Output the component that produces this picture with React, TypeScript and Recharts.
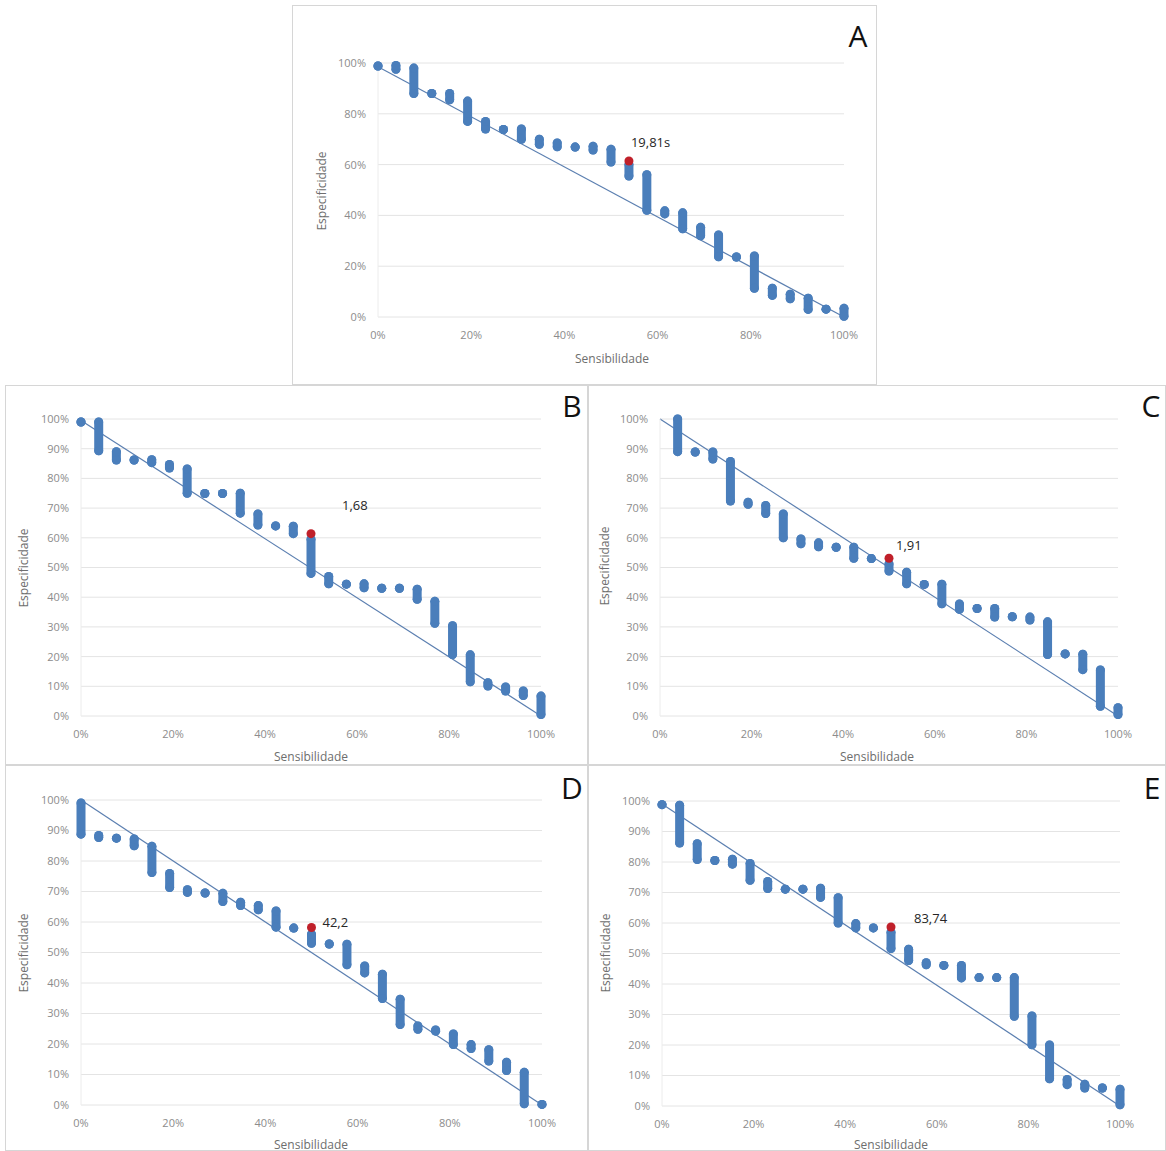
import React from "react"
import { ScatterChart, Scatter, XAxis, YAxis, CartesianGrid, ReferenceLine } from "recharts"

// sensitivity steps shared by all five panels (%)
const sens = [0, 3.85, 7.69, 11.54, 15.38, 19.23, 23.08, 26.92, 30.77, 34.62, 38.46, 42.31, 46.15, 50, 53.85, 57.69, 61.54, 65.38, 69.23, 73.08, 76.92, 80.77, 84.62, 88.46, 92.31, 96.15, 100]

// specificity range (low / high) at each sensitivity step (%)
const aLow = [98.8, 97.5, 88, 88, 85.5, 77, 74, 73.8, 70, 68, 67, 66.9, 65.7, 61, 55.5, 42, 40.6, 34.7, 32, 23.7, 23.6, 11.3, 8.5, 7.2, 3, 3.1, 0.3]
const aHigh = [98.8, 99, 98, 88, 88, 85, 77, 73.8, 74, 70, 68.5, 66.9, 67.2, 66, 60, 56, 41.8, 41, 35.3, 32.3, 23.6, 24, 11.3, 9, 7.4, 3.1, 3.4]

const bLow = [99, 89.3, 86.2, 86.2, 85.3, 83.5, 75, 74.9, 74.9, 68.3, 64.3, 64, 61.4, 48, 44.5, 44.4, 43.2, 43, 43, 39.3, 31.2, 20.7, 11.5, 10.1, 8.4, 6.9, 0.5]
const bHigh = [99, 99, 89, 86.2, 86.3, 84.7, 83.2, 74.9, 74.9, 75, 68, 64, 63.9, 59.5, 47, 44.4, 44.5, 43, 43, 42.7, 38.6, 30.4, 20.6, 11.2, 9.8, 8.4, 6.7]

const cLow = [null, 89, 88.9, 86.5, 72.4, 71.3, 68.2, 60, 58, 57, 56.8, 53.1, 53, 48.8, 44.5, 44.3, 37.8, 35.9, 36.2, 33.3, 33.4, 32.3, 20.7, 20.9, 15.6, 3.3, 0.5]
const cHigh = [null, 100, 88.9, 88.9, 85.7, 72, 70.9, 68, 59.6, 58.3, 56.8, 56.8, 53, 51.2, 48.4, 44.3, 44.4, 37.7, 36.2, 36.2, 33.4, 33.3, 31.7, 20.9, 20.8, 15.5, 2.8]

const dLow = [88.8, 87.7, 87.5, 85, 76.2, 71.3, 69.7, 69.5, 66.7, 65.4, 64, 58.3, 58, 53, 52.8, 46, 43.3, 34.9, 26.4, 24.8, 24.2, 19.8, 18.5, 14.4, 11.3, 0.4, 0.2]
const dHigh = [99, 88.4, 87.5, 87.2, 84.8, 75.9, 70.6, 69.5, 69.4, 66.5, 65.4, 63.6, 58, 56, 52.8, 52.7, 45.6, 42.9, 34.7, 25.9, 24.6, 23.3, 19.8, 18.1, 14, 10.7, 0.2]

const eLow = [98.8, 86.2, 80.8, 80.5, 79.3, 74, 71.3, 71.1, 71.1, 68.4, 60, 58.4, 58.4, 51.6, 47.7, 46.3, 46.1, 42, 42.1, 42.1, 29.4, 20.1, 8.9, 7, 5.9, 5.9, 0.4]
const eHigh = [98.8, 98.6, 86, 80.5, 80.9, 79.5, 73.6, 71.1, 71.1, 71.4, 68.3, 59.8, 58.4, 57, 51.4, 47, 46.1, 46.1, 42.1, 42.1, 42.1, 29.5, 20, 8.7, 7.1, 5.9, 5.5]

// selected cut-off point [sensitivity, specificity] and its label
const aCut = [53.85, 61.4]
const bCut = [50, 61.4]
const cCut = [50, 53.1]
const dCut = [50, 58.2]
const eCut = [50, 58.7]
const cutLabels = ["19,81s", "1,68", "1,91", "42,2", "83,74"]

// start of the reference diagonal at sensitivity 0
const diagStart = [98.5, 99.5, 100, 100, 99]

const yTicksA = [0, 20, 40, 60, 80, 100]
const yTicks = [0, 10, 20, 30, 40, 50, 60, 70, 80, 90, 100]
const xTicks = [0, 20, 40, 60, 80, 100]

const BLUE = "#4a7ebb"
const RED = "#c0202a"
const FONT = "'Open Sans', 'Liberation Sans', sans-serif"

type Panel = {
  letter: string
  left: number
  top: number
  w: number
  h: number
  x0: number
  x1: number
  y0: number
  y1: number
  low: (number | null)[]
  high: (number | null)[]
  cut: number[]
  label: string
  diag: number
  yTicks: number[]
  dx: number
  dy: number
  xTitle: [number, number]
  yTitle: [number, number]
  letterPos: [number, number]
}

const panels: Panel[] = [
  { letter: "A", left: 292, top: 5, w: 585, h: 380, x0: 86, x1: 552, y0: 58, y1: 312, low: aLow, high: aHigh, cut: aCut, label: cutLabels[0], diag: diagStart[0], yTicks: yTicksA, dx: 2, dy: -14, xTitle: [319, 352], yTitle: [28, 185], letterPos: [565, 30] },
  { letter: "B", left: 5, top: 385, w: 583, h: 380, x0: 76, x1: 536, y0: 34, y1: 331, low: bLow, high: bHigh, cut: bCut, label: cutLabels[1], diag: diagStart[1], yTicks, dx: 31, dy: -24, xTitle: [305, 370], yTitle: [17, 182], letterPos: [566, 20] },
  { letter: "C", left: 588, top: 385, w: 578, h: 380, x0: 72, x1: 530, y0: 34, y1: 331, low: cLow, high: cHigh, cut: cCut, label: cutLabels[2], diag: diagStart[2], yTicks, dx: 7, dy: -8, xTitle: [288, 370], yTitle: [15, 180], letterPos: [562, 20] },
  { letter: "D", left: 5, top: 765, w: 583, h: 386, x0: 76, x1: 537, y0: 35, y1: 340, low: dLow, high: dHigh, cut: dCut, label: cutLabels[3], diag: diagStart[3], yTicks, dx: 11, dy: 0, xTitle: [305, 378], yTitle: [17, 187], letterPos: [566, 22] },
  { letter: "E", left: 588, top: 765, w: 578, h: 386, x0: 74, x1: 532, y0: 36, y1: 341, low: eLow, high: eHigh, cut: eCut, label: cutLabels[4], diag: diagStart[4], yTicks, dx: 23, dy: -4, xTitle: [302, 378], yTitle: [16, 187], letterPos: [563, 22] },
]

const tickStyle = { fontSize: 11, fill: "#8c8c8c", fontFamily: FONT }

function RocPanel({ p }: { p: Panel }) {
  const yAxisW = 44
  const xAxisH = 24
  const margin = { top: p.y0, right: p.w - p.x1, bottom: p.h - p.y1 - xAxisH, left: p.x0 - yAxisW }

  const columns = sens
    .map((x, i) => ({ x, lo: p.low[i], hi: p.high[i] }))
    .filter((c) => c.lo != null && c.hi != null)

  const dot = (props: any) => <circle cx={props.cx} cy={props.cy} r={4.5} fill={BLUE} />
  const cutDot = (props: any) => (
    <g>
      <circle cx={props.cx} cy={props.cy} r={4.5} fill={RED} />
      <text x={props.cx + p.dx} y={props.cy + p.dy} fontSize={13} fill="#262626" fontFamily={FONT}>
        {p.label}
      </text>
    </g>
  )

  return (
    <div
      style={{
        position: "absolute",
        left: p.left,
        top: p.top,
        width: p.w,
        height: p.h,
        boxSizing: "border-box",
        border: "1px solid #d6d6d6",
        background: "#fff",
        overflow: "hidden",
      }}
    >
      <div style={{ position: "absolute", left: -1, top: -1 }}>
        <ScatterChart width={p.w} height={p.h} margin={margin}>
          <CartesianGrid vertical={false} stroke="#e4e4e4" />
          <XAxis
            type="number"
            dataKey="x"
            domain={[0, 100]}
            ticks={xTicks}
            tickFormatter={(v) => `${v}%`}
            axisLine={false}
            tickLine={false}
            tick={{ ...tickStyle, dy: 6 }}
            height={xAxisH}
            interval={0}
          />
          <YAxis
            type="number"
            dataKey="y"
            domain={[0, 100]}
            ticks={p.yTicks}
            tickFormatter={(v) => `${v}%`}
            axisLine={{ stroke: "#ececec" }}
            tickLine={false}
            tick={{ ...tickStyle, dx: -4 }}
            width={yAxisW}
            interval={0}
          />
          <ReferenceLine
            segment={[
              { x: 0, y: p.diag },
              { x: 100, y: 0 },
            ]}
            stroke="#5b7fb0"
            strokeWidth={1.2}
          />
          {columns.map((c, i) => (
            <Scatter
              key={i}
              data={[
                { x: c.x, y: c.lo },
                { x: c.x, y: c.hi },
              ]}
              fill={BLUE}
              line={{ stroke: BLUE, strokeWidth: 9, strokeLinecap: "round" }}
              lineType="joint"
              shape={dot}
              isAnimationActive={false}
            />
          ))}
          <Scatter data={[{ x: p.cut[0], y: p.cut[1] }]} fill={RED} shape={cutDot} isAnimationActive={false} />
        </ScatterChart>
      </div>
      <div
        style={{
          position: "absolute",
          left: p.xTitle[0],
          top: p.xTitle[1],
          transform: "translate(-50%, -50%)",
          fontFamily: FONT,
          fontSize: 12,
          color: "#6e6e6e",
          whiteSpace: "nowrap",
        }}
      >
        Sensibilidade
      </div>
      <div
        style={{
          position: "absolute",
          left: p.yTitle[0],
          top: p.yTitle[1],
          transform: "translate(-50%, -50%) rotate(-90deg)",
          fontFamily: FONT,
          fontSize: 12,
          color: "#6e6e6e",
          whiteSpace: "nowrap",
        }}
      >
        Especificidade
      </div>
      <div
        style={{
          position: "absolute",
          left: p.letterPos[0],
          top: p.letterPos[1],
          transform: "translate(-50%, -50%)",
          fontFamily: FONT,
          fontSize: 30,
          color: "#111",
          lineHeight: 1,
        }}
      >
        {p.letter}
      </div>
    </div>
  )
}

export default function App() {
  return (
    <div style={{ position: "absolute", left: 0, top: 0, width: 1166, height: 1151, background: "#fff" }}>
      {panels.map((p) => (
        <RocPanel key={p.letter} p={p} />
      ))}
    </div>
  )
}
